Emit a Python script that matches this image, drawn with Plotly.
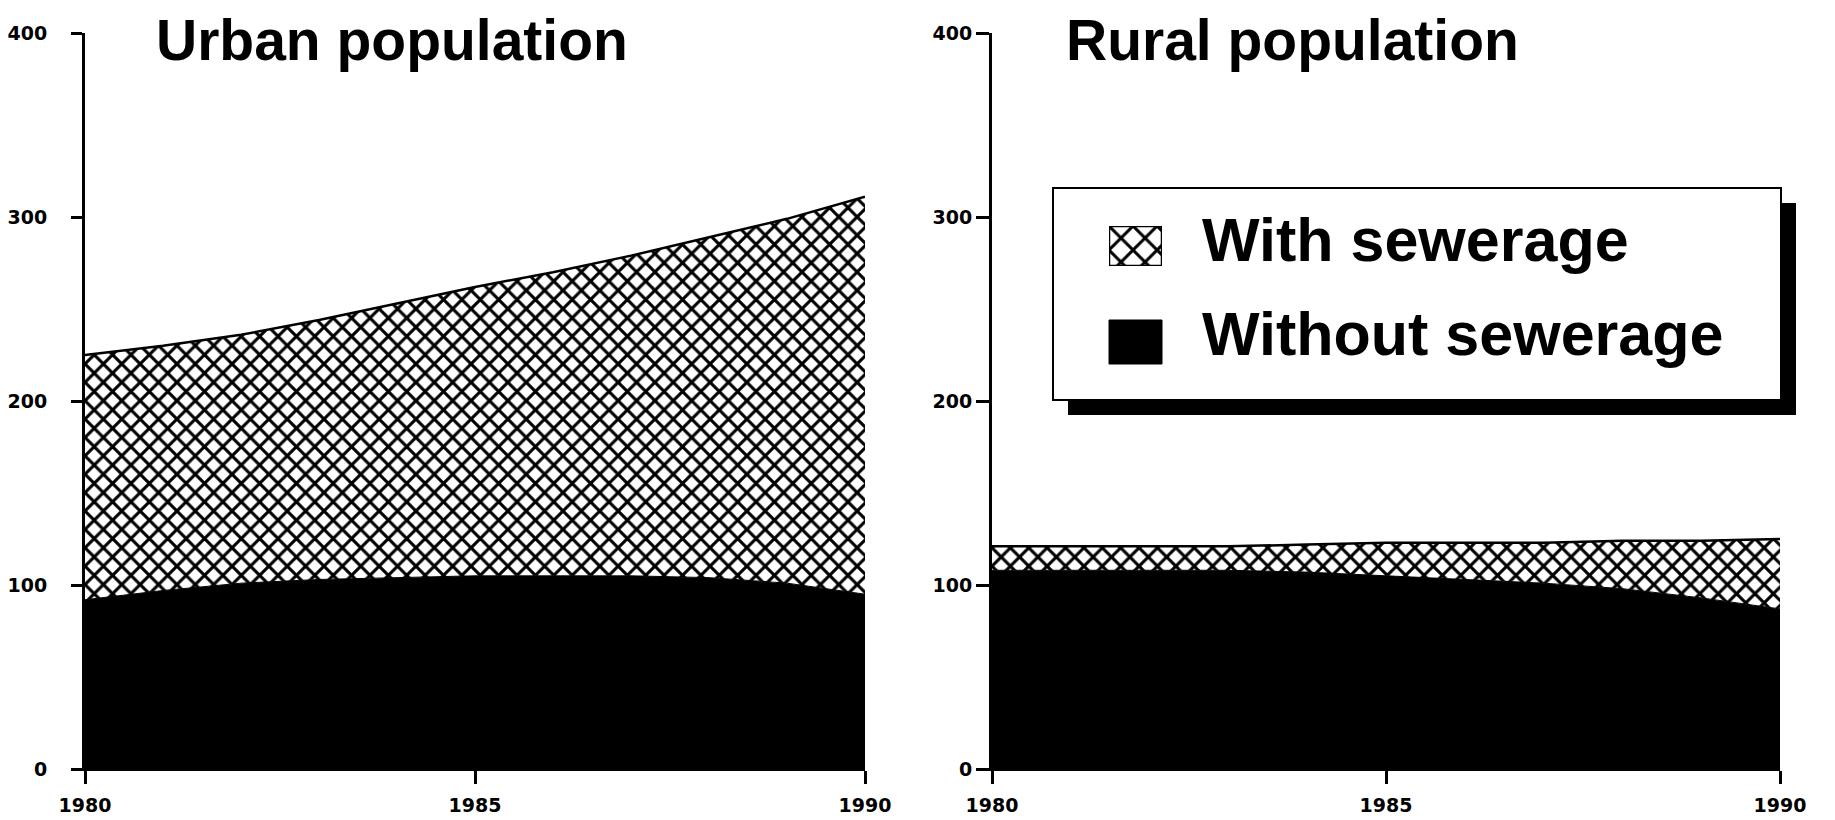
import plotly.graph_objects as go

# ---------------- data ----------------
years = [1980, 1981, 1982, 1983, 1984, 1985, 1986, 1987, 1988, 1989, 1990]

urban_without = [92, 97, 101, 103, 104, 105, 105, 105, 104, 101, 95]
urban_with = [133, 133, 135, 141, 149, 157, 165, 174, 185, 198, 216]

rural_without = [108, 108, 108, 108, 107, 105, 103, 101, 98, 93, 87]
rural_with = [13, 13, 13, 13, 15, 18, 20, 22, 26, 31, 38]

x_ticks = [1980, 1985, 1990]
y_ticks = [0, 100, 200, 300, 400]

titles = ["Urban population", "Rural population"]
legend_labels = ["With sewerage", "Without sewerage"]

# ---------------- layout geometry (pixels) ----------------
W, H = 1835, 820
L, R, T, B = 85, 55, 33, 51
PW = W - L - R
PH = H - T - B


def px(x):
    return (x - L) / PW


def py(y):
    return (H - B - y) / PH


hatch = dict(shape="x", fgcolor="#000000", bgcolor="white", fgopacity=1,
             size=13, solidity=0.42)

fig = go.Figure()

panels = [("x", "y", urban_without, urban_with, "u"),
          ("x2", "y2", rural_without, rural_with, "r")]
for xa, ya, wo, wi, sg in panels:
    fig.add_trace(go.Scatter(
        x=years, y=wo, xaxis=xa, yaxis=ya, stackgroup=sg, mode="lines",
        line=dict(color="black", width=1), fillcolor="black",
        name=legend_labels[1], showlegend=False, hoverinfo="skip"))
    fig.add_trace(go.Scatter(
        x=years, y=wi, xaxis=xa, yaxis=ya, stackgroup=sg, mode="lines",
        line=dict(color="black", width=2.5), fillpattern=hatch,
        fillcolor="white",
        name=legend_labels[0], showlegend=False, hoverinfo="skip"))

# legend swatch for the hatch (auxiliary axes)
fig.add_trace(go.Scatter(
    x=[0, 1, 1, 0, 0], y=[0, 0, 1, 1, 0], xaxis="x3", yaxis="y3",
    mode="lines", fill="toself", line=dict(color="black", width=2.5),
    fillpattern=dict(shape="x", fgcolor="#000000", bgcolor="white", fgopacity=1,
                     size=17, solidity=0.32),
    fillcolor="white", showlegend=False, hoverinfo="skip"))

tickfont = dict(family="DejaVu Sans", size=19, color="black", weight="bold")

xdom1 = [0, px(865)]
xdom2 = [px(992), 1]

common_x = dict(range=[1980, 1990], tickvals=x_ticks, ticks="outside", ticklen=13,
                tickwidth=3, tickcolor="black", showline=True, linecolor="black",
                linewidth=2, showgrid=False, zeroline=False, tickfont=tickfont,
                ticklabelstandoff=5, automargin=False, fixedrange=True)
common_y = dict(range=[0, 400], tickvals=y_ticks, ticks="outside",
                tickwidth=3, tickcolor="black", showline=True, linecolor="black",
                linewidth=3, showgrid=False, zeroline=False, tickfont=tickfont,
                automargin=False, fixedrange=True)

fig.update_layout(
    width=W, height=H,
    margin=dict(l=L, r=R, t=T, b=B),
    paper_bgcolor="white", plot_bgcolor="rgba(0,0,0,0)",
    showlegend=False,
    xaxis=dict(domain=xdom1, anchor="y", **common_x),
    yaxis=dict(domain=[0, 1], anchor="x", ticklen=11, ticklabelstandoff=20, **common_y),
    xaxis2=dict(domain=xdom2, anchor="y2", **common_x),
    yaxis2=dict(domain=[0, 1], anchor="x2", ticklen=13, ticklabelstandoff=0, **common_y),
    xaxis3=dict(domain=[px(1109), px(1162)], anchor="y3", range=[0, 1], visible=False,
                fixedrange=True),
    yaxis3=dict(domain=[py(266), py(226)], anchor="x3", range=[0, 1], visible=False,
                fixedrange=True),
)

# titles
title_font = dict(family="Liberation Sans", size=57, color="black")
fig.add_annotation(text="<b>" + titles[0] + "</b>", xref="paper", yref="paper",
                   x=px(154), y=py(40), xanchor="left", yanchor="middle",
                   showarrow=False, font=title_font)
fig.add_annotation(text="<b>" + titles[1] + "</b>", xref="paper", yref="paper",
                   x=px(1064), y=py(40), xanchor="left", yanchor="middle",
                   showarrow=False, font=title_font)

# legend box with shadow (below traces so the hatch swatch shows)
fig.add_shape(type="rect", xref="paper", yref="paper",
              x0=px(1068), x1=px(1796), y0=py(415), y1=py(203),
              fillcolor="black", line=dict(width=0), layer="below")
fig.add_shape(type="rect", xref="paper", yref="paper",
              x0=px(1053), x1=px(1781), y0=py(400), y1=py(188),
              fillcolor="white", line=dict(color="black", width=2), layer="below")
# solid swatch
fig.add_shape(type="rect", xref="paper", yref="paper",
              x0=px(1109), x1=px(1162), y0=py(364), y1=py(320),
              fillcolor="black", line=dict(color="black", width=1), layer="above")

legend_font = dict(family="Liberation Sans", size=61, color="black")
fig.add_annotation(text="<b>" + legend_labels[0] + "</b>", xref="paper", yref="paper",
                   x=px(1200), y=py(240), xanchor="left", yanchor="middle",
                   showarrow=False, font=legend_font)
fig.add_annotation(text="<b>" + legend_labels[1] + "</b>", xref="paper", yref="paper",
                   x=px(1200), y=py(334), xanchor="left", yanchor="middle",
                   showarrow=False, font=legend_font)

fig.write_html("out.html", config={"displayModeBar": False},
               post_script="document.body.style.margin='0';")
